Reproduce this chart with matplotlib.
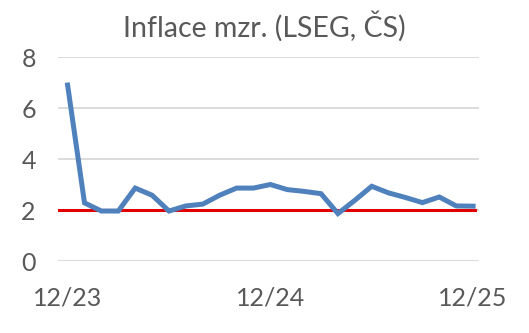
import matplotlib
matplotlib.use("Agg")
import matplotlib.pyplot as plt

values = [6.9, 2.28, 1.96, 1.96, 2.86, 2.58, 1.96, 2.16, 2.23, 2.58, 2.86, 2.86, 3.0,
          2.8, 2.73, 2.64, 1.86, 2.38, 2.93, 2.67, 2.49, 2.29, 2.51, 2.16, 2.15]
target = 2.0
tick_pos = [0, 12, 24]
tick_labels = ["12/23", "12/24", "12/25"]
y_ticks = [0, 2, 4, 6, 8]
title = "Inflace mzr. (LSEG, ČS)"

plt.rcParams['font.family'] = ['Lato', 'DejaVu Sans']
fig = plt.figure(figsize=(5.29, 3.33), dpi=100)
ax = fig.add_axes([0.1096, 0.2162, 0.7959, 0.6126])
x = list(range(len(values)))
ax.plot(x, values, color="#4F81BD", lw=3.6, solid_joinstyle="miter", zorder=3)
ax.plot([-0.6, 24.1], [target, target], color="#E00000", lw=2.2, zorder=2)
ax.set_xlim(-0.57, 24.35)
ax.set_ylim(0, 8)
ax.set_yticks(y_ticks)
ax.set_xticks(tick_pos)
ax.set_xticklabels(tick_labels)
ax.grid(axis="y", color="#D9D9D9", lw=1.3)
ax.set_axisbelow(True)
for s in ax.spines.values():
    s.set_visible(False)
ax.tick_params(length=0, labelsize=18, colors="#595959")
ax.tick_params(axis="x", pad=18)
ax.tick_params(axis="y", pad=16)
fig.text(0.5, 0.92, title, ha="center", va="center", fontsize=20.5, color="#595959")
fig.savefig("out.png", dpi=100)
